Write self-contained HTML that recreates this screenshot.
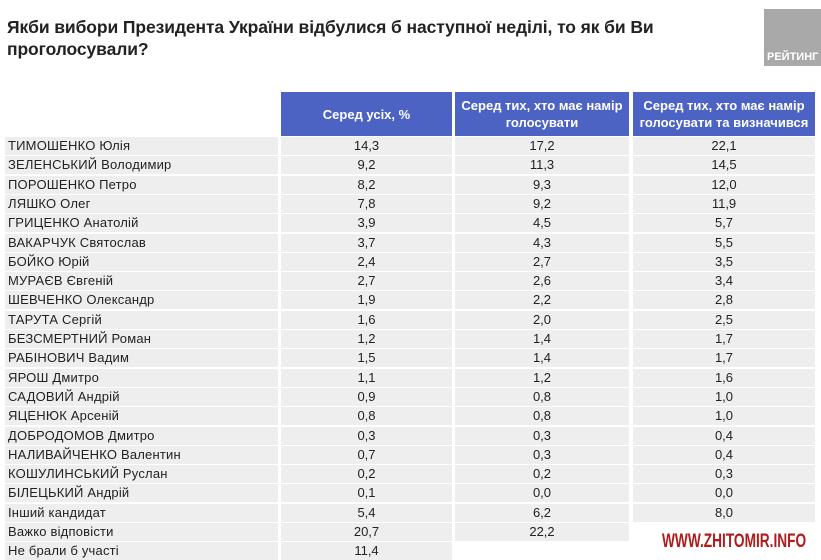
<!DOCTYPE html>
<html><head><meta charset="utf-8"><style>
body{margin:0;width:821px;height:560px;background:#fff;position:relative;overflow:hidden;font-family:"Liberation Sans",Arial,sans-serif;}
.t{position:absolute;left:7px;top:16px;font-size:17.5px;font-weight:bold;color:#222;line-height:22px;letter-spacing:-0.1px;}
.logo{position:absolute;left:764px;top:9px;width:57px;height:57px;background:#a9a9a9;color:#fff;font-weight:bold;font-size:11px;}
.logo span{position:absolute;left:3px;bottom:3px;}
.h{position:absolute;top:92px;height:44px;background:#4d63c4;color:#fff;font-weight:bold;font-size:13px;display:flex;align-items:center;justify-content:center;text-align:center;line-height:17px;}
.c{position:absolute;height:18px;background:#eeeeee;font-size:13px;color:#222;line-height:18px;}
.l{left:5px;width:273px;padding-left:3px;box-sizing:border-box;letter-spacing:0.2px;}
.n{text-align:center;}
.w{position:absolute;left:662px;top:531px;color:#b01c1c;font-weight:bold;font-size:19px;transform:scaleX(0.72);transform-origin:left;white-space:nowrap;}
</style></head><body>
<div class="t">Якби вибори Президента України відбулися б наступної неділі, то як би Ви<br>проголосували?</div>
<div class="logo"><span>РЕЙТИНГ</span></div>
<div class="h" style="left:281px;width:171px">Серед усіх, %</div>
<div class="h" style="left:455px;width:174px">Серед тих, хто має намір<br>голосувати</div>
<div class="h" style="left:633px;width:182px">Серед тих, хто має намір<br>голосувати та визначився</div>
<div id="rows"></div>
<div class="w">WWW.ZHITOMIR.INFO</div>
<script>
var d=[["ТИМОШЕНКО Юлія","14,3","17,2","22,1"],["ЗЕЛЕНСЬКИЙ Володимир","9,2","11,3","14,5"],["ПОРОШЕНКО Петро","8,2","9,3","12,0"],["ЛЯШКО Олег","7,8","9,2","11,9"],["ГРИЦЕНКО Анатолій","3,9","4,5","5,7"],["ВАКАРЧУК Святослав","3,7","4,3","5,5"],["БОЙКО Юрій","2,4","2,7","3,5"],["МУРАЄВ Євгеній","2,7","2,6","3,4"],["ШЕВЧЕНКО Олександр","1,9","2,2","2,8"],["ТАРУТА Сергій","1,6","2,0","2,5"],["БЕЗСМЕРТНИЙ Роман","1,2","1,4","1,7"],["РАБІНОВИЧ Вадим","1,5","1,4","1,7"],["ЯРОШ Дмитро","1,1","1,2","1,6"],["САДОВИЙ Андрій","0,9","0,8","1,0"],["ЯЦЕНЮК Арсеній","0,8","0,8","1,0"],["ДОБРОДОМОВ Дмитро","0,3","0,3","0,4"],["НАЛИВАЙЧЕНКО Валентин","0,7","0,3","0,4"],["КОШУЛИНСЬКИЙ Руслан","0,2","0,2","0,3"],["БІЛЕЦЬКИЙ Андрій","0,1","0,0","0,0"],["Інший кандидат","5,4","6,2","8,0"],["Важко відповісти","20,7","22,2",null],["Не брали б участі","11,4",null,null]];
var cols=[[281,171],[455,174],[633,182]],h="";
d.forEach(function(r,i){var y=137+i*19.3;
h+='<div class="c l" style="top:'+y+'px">'+r[0]+'</div>';
for(var j=0;j<3;j++)if(r[j+1]!==null)h+='<div class="c n" style="top:'+y+'px;left:'+cols[j][0]+'px;width:'+cols[j][1]+'px">'+r[j+1]+'</div>';});
document.getElementById('rows').innerHTML=h;
</script>
</body></html>
